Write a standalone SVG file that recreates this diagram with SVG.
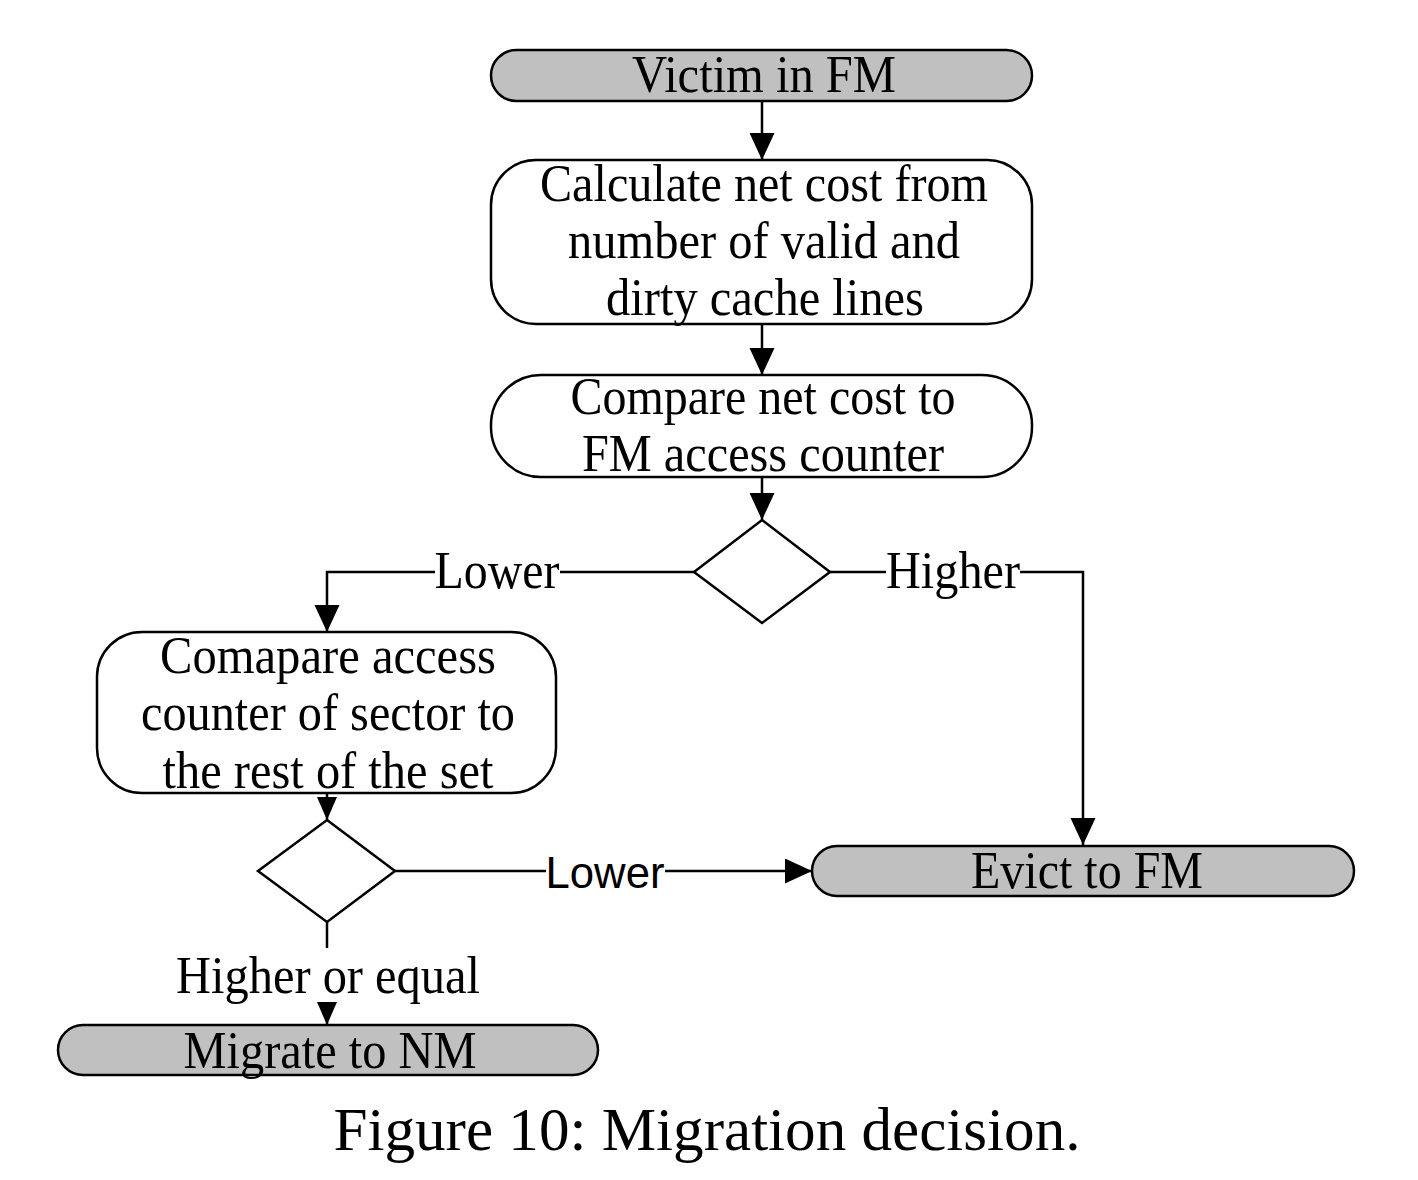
<svg xmlns="http://www.w3.org/2000/svg" width="1418" height="1180" viewBox="0 0 1418 1180">
<style>
.term{fill:#c0c0c0;stroke:#000;stroke-width:2.5}
.proc{fill:#fff;stroke:#000;stroke-width:2.5}
.t{font-family:"Liberation Serif","Times New Roman",serif;font-size:52px;fill:#000;text-anchor:middle}
.s{font-family:"Liberation Sans",Arial,sans-serif;font-size:44px;fill:#000;text-anchor:middle}
.c{font-family:"Liberation Serif","Times New Roman",serif;font-size:61px;fill:#000;text-anchor:middle}
.ln{fill:none;stroke:#000;stroke-width:2.5}
</style>
<defs>
<marker id="ah" markerUnits="userSpaceOnUse" markerWidth="28" markerHeight="26" refX="27" refY="12.5" orient="auto">
<path d="M0,0 L27,12.5 L0,25 z" fill="#000"/>
</marker>
<marker id="ahs" markerUnits="userSpaceOnUse" markerWidth="24" markerHeight="22" refX="23" refY="10" orient="auto">
<path d="M0,0 L23,10 L0,20 z" fill="#000"/>
</marker>
</defs>
<g id="connectors">
<line class="ln" x1="762" y1="101" x2="762" y2="160" marker-end="url(#ah)"/>
<line class="ln" x1="762" y1="324" x2="762" y2="375" marker-end="url(#ah)"/>
<line class="ln" x1="762" y1="477" x2="762" y2="520" marker-end="url(#ah)"/>
<polyline class="ln" points="694,572 560,572"/>
<polyline class="ln" points="435,572 327,572 327,632" marker-end="url(#ah)"/>
<text class="t" x="497" y="588" textLength="125" lengthAdjust="spacingAndGlyphs">Lower</text>
<polyline class="ln" points="830,572 886,572"/>
<polyline class="ln" points="1020,572 1083,572 1083,845" marker-end="url(#ah)"/>
<text class="t" x="953" y="588" textLength="134" lengthAdjust="spacingAndGlyphs">Higher</text>
<line class="ln" x1="327" y1="793" x2="327" y2="820" marker-end="url(#ahs)"/>
<line class="ln" x1="395" y1="871" x2="546" y2="871"/>
<line class="ln" x1="665" y1="871" x2="812" y2="871" marker-end="url(#ah)"/>
<text class="s" x="605" y="888" textLength="119" lengthAdjust="spacingAndGlyphs">Lower</text>
<line class="ln" x1="327" y1="922" x2="327" y2="948"/>
<line class="ln" x1="327" y1="1003" x2="327" y2="1025" marker-end="url(#ahs)"/>
<text class="t" x="328" y="993" textLength="304" lengthAdjust="spacingAndGlyphs">Higher or equal</text>
</g>
<g id="victim">
<rect class="term" x="491" y="50" width="541" height="51" rx="25.5"/>
<text class="t" x="764" y="92" textLength="264" lengthAdjust="spacingAndGlyphs">Victim in FM</text>
</g>
<g id="calculate">
<rect class="proc" x="491" y="160" width="541" height="164" rx="45"/>
<text class="t" x="764" y="201" textLength="448" lengthAdjust="spacingAndGlyphs">Calculate net cost from</text>
<text class="t" x="764" y="258" textLength="392" lengthAdjust="spacingAndGlyphs">number of valid and</text>
<text class="t" x="765" y="315" textLength="318" lengthAdjust="spacingAndGlyphs">dirty cache lines</text>
</g>
<g id="compare">
<rect class="proc" x="491" y="375" width="541" height="102" rx="50"/>
<text class="t" x="763" y="414" textLength="385" lengthAdjust="spacingAndGlyphs">Compare net cost to</text>
<text class="t" x="763" y="471" textLength="362" lengthAdjust="spacingAndGlyphs">FM access counter</text>
</g>
<g id="decision1">
<polygon class="proc" points="762,520 830,572 762,623 694,572"/>
</g>
<g id="comapare">
<rect class="proc" x="97" y="632" width="459" height="161" rx="45"/>
<text class="t" x="328" y="673" textLength="336" lengthAdjust="spacingAndGlyphs">Comapare access</text>
<text class="t" x="328" y="730" textLength="374" lengthAdjust="spacingAndGlyphs">counter of sector to</text>
<text class="t" x="328" y="788" textLength="331" lengthAdjust="spacingAndGlyphs">the rest of the set</text>
</g>
<g id="decision2">
<polygon class="proc" points="327,820 395,871 327,922 258,871"/>
</g>
<g id="evict">
<rect class="term" x="812" y="846" width="542" height="50" rx="25"/>
<text class="t" x="1087" y="888" textLength="232" lengthAdjust="spacingAndGlyphs">Evict to FM</text>
</g>
<g id="migrate">
<rect class="term" x="58" y="1025" width="540" height="50" rx="25"/>
<text class="t" x="330" y="1068" textLength="293" lengthAdjust="spacingAndGlyphs">Migrate to NM</text>
</g>
<text class="c" x="707" y="1150" textLength="747" lengthAdjust="spacingAndGlyphs">Figure 10: Migration decision.</text>
</svg>
